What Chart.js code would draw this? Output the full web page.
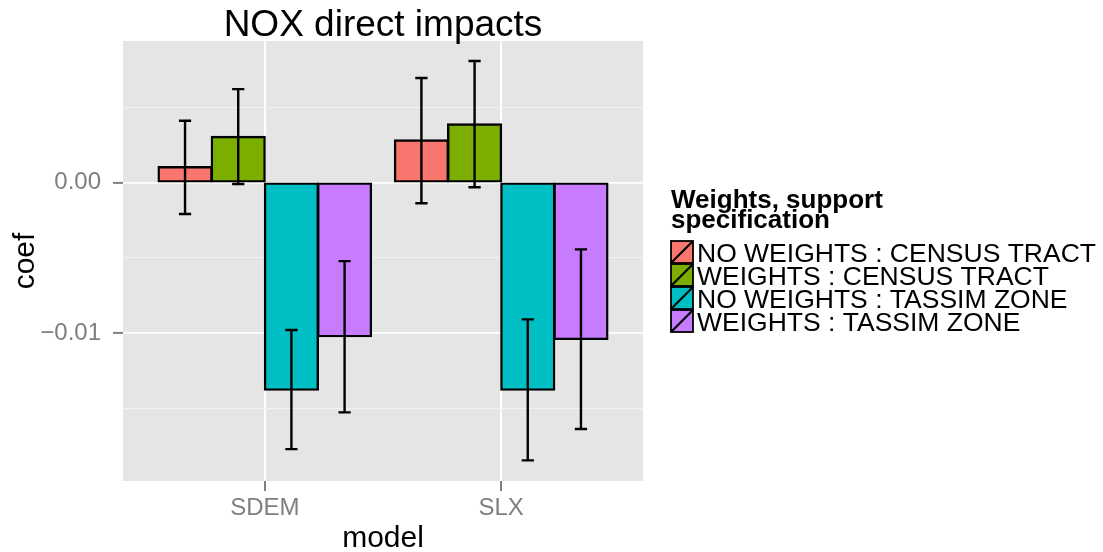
<!DOCTYPE html>
<html>
<head>
<meta charset="utf-8">
<script src="https://cdn.jsdelivr.net/npm/chart.js@4/dist/chart.umd.min.js"></script>
<style>
  html, body { margin: 0; padding: 0; background: #ffffff; }
  canvas { display: block; }
</style>
</head>
<body>
<canvas id="chart" width="1103" height="552"></canvas>
<script>
// Models on the x axis and where they sit on the numeric axis
const models = ['SDEM', 'SLX'];
const modelPositions = [1, 2];

// Series (weights / support specification)
const seriesNames = [
  'NO WEIGHTS : CENSUS TRACT',
  'WEIGHTS : CENSUS TRACT',
  'NO WEIGHTS : TASSIM ZONE',
  'WEIGHTS : TASSIM ZONE'
];
const seriesColors = ['#F8766D', '#7CAE00', '#00BFC4', '#C77CFF'];

// Coefficients per model (SDEM, SLX)
const coefNoWeightsCensus = [0.00103, 0.00280];
const coefWeightsCensus   = [0.00304, 0.00387];
const coefNoWeightsTassim = [-0.01377, -0.01377];
const coefWeightsTassim   = [-0.01022, -0.01040];

// Confidence interval bounds per model (SDEM, SLX)
const lowNoWeightsCensus  = [-0.00209, -0.00138];
const highNoWeightsCensus = [0.00410, 0.00694];
const lowWeightsCensus    = [-0.00010, -0.00032];
const highWeightsCensus   = [0.00620, 0.00807];
const lowNoWeightsTassim  = [-0.01771, -0.01846];
const highNoWeightsTassim = [-0.00980, -0.00909];
const lowWeightsTassim    = [-0.01527, -0.01638];
const highWeightsTassim   = [-0.00522, -0.00444];

// Y axis ticks
const yMajorTicks = [-0.01, 0];
const yMajorLabels = ['\u22120.01', '0.00'];
const yMinorTicks = [-0.015, -0.005, 0.005];
const yMin = -0.01983;
const yMax = 0.0094;

const titleText = 'NOX direct impacts';
const xTitleText = 'model';
const yTitleText = 'coef';
const legendTitleLines = ['Weights, support', 'specification'];

const coefSeries = [coefNoWeightsCensus, coefWeightsCensus, coefNoWeightsTassim, coefWeightsTassim];
const lowSeries  = [lowNoWeightsCensus, lowWeightsCensus, lowNoWeightsTassim, lowWeightsTassim];
const highSeries = [highNoWeightsCensus, highWeightsCensus, highNoWeightsTassim, highWeightsTassim];

const FONT = '"Liberation Sans", Arial, Helvetica, sans-serif';
const isMajor = v => yMajorTicks.some(m => Math.abs(m - v) < 1e-9);

const datasets = seriesNames.map((name, i) => ({
  label: name,
  data: modelPositions.map((x, j) => ({ x: x, y: coefSeries[i][j] })),
  errLow: lowSeries[i],
  errHigh: highSeries[i],
  backgroundColor: seriesColors[i],
  borderColor: '#000000',
  borderWidth: 2.4,
  borderSkipped: false,
  inflateAmount: 1,
  categoryPercentage: 0.9,
  barPercentage: 1.0
}));

// Grey panel behind the grid
const panelBackground = {
  id: 'panelBackground',
  beforeDraw(chart) {
    const { ctx, chartArea: a } = chart;
    ctx.save();
    ctx.fillStyle = '#E5E5E5';
    ctx.fillRect(a.left, a.top, a.right - a.left, a.bottom - a.top);
    ctx.restore();
  }
};

// Error bars with caps, centred on each bar
const errorBars = {
  id: 'errorBars',
  afterDatasetsDraw(chart) {
    const ctx = chart.ctx;
    const yScale = chart.scales.y;
    ctx.save();
    ctx.strokeStyle = '#000000';
    ctx.lineWidth = 2.4;
    ctx.lineCap = 'butt';
    chart.data.datasets.forEach((ds, i) => {
      const meta = chart.getDatasetMeta(i);
      meta.data.forEach((bar, j) => {
        const yLo = yScale.getPixelForValue(ds.errLow[j]);
        const yHi = yScale.getPixelForValue(ds.errHigh[j]);
        const half = bar.width * 0.115;
        ctx.beginPath();
        ctx.moveTo(bar.x, yLo);
        ctx.lineTo(bar.x, yHi);
        ctx.moveTo(bar.x - half, yLo);
        ctx.lineTo(bar.x + half, yLo);
        ctx.moveTo(bar.x - half, yHi);
        ctx.lineTo(bar.x + half, yHi);
        ctx.stroke();
      });
    });
    ctx.restore();
  }
};

// Title, axis titles and the fill legend
const decorations = {
  id: 'decorations',
  afterDraw(chart) {
    const { ctx, chartArea: a } = chart;
    const cx = (a.left + a.right) / 2;
    const cy = (a.top + a.bottom) / 2;
    ctx.save();
    ctx.fillStyle = '#000000';
    ctx.textBaseline = 'alphabetic';

    ctx.font = '37px ' + FONT;
    ctx.textAlign = 'center';
    ctx.fillText(titleText, cx, 36);

    ctx.font = '30px ' + FONT;
    ctx.fillText(xTitleText, cx, 547);

    ctx.save();
    ctx.translate(33.5, cy);
    ctx.rotate(-Math.PI / 2);
    ctx.fillText(yTitleText, 0, 0);
    ctx.restore();

    // legend
    const lx = 671;
    ctx.textAlign = 'left';
    ctx.font = 'bold 26px ' + FONT;
    ctx.fillText(legendTitleLines[0], lx, 208);
    ctx.fillText(legendTitleLines[1], lx, 228);

    const keySize = 22;
    const rowTop = 241;
    const rowStep = 23;
    ctx.font = '26.5px ' + FONT;
    chart.data.datasets.forEach((ds, i) => {
      const top = rowTop + i * rowStep;
      ctx.fillStyle = ds.backgroundColor;
      ctx.fillRect(lx, top, keySize, keySize);
      ctx.strokeStyle = '#000000';
      ctx.lineWidth = 1.8;
      ctx.strokeRect(lx, top, keySize, keySize);
      ctx.lineWidth = 2.2;
      ctx.beginPath();
      ctx.moveTo(lx, top + keySize);
      ctx.lineTo(lx + keySize, top);
      ctx.stroke();
      ctx.fillStyle = '#000000';
      ctx.fillText(ds.label, lx + keySize + 4, top + keySize / 2 + 9.5);
    });
    ctx.restore();
  }
};

new Chart(document.getElementById('chart'), {
  type: 'bar',
  data: { datasets: datasets },
  options: {
    responsive: false,
    animation: false,
    devicePixelRatio: 1,
    layout: { padding: { left: 0, top: 41, right: 460, bottom: 0 } },
    plugins: {
      legend: { display: false },
      title: { display: false },
      tooltip: { enabled: false }
    },
    scales: {
      x: {
        type: 'linear',
        min: 0.4,
        max: 2.6,
        offset: false,
        afterBuildTicks: s => { s.ticks = modelPositions.map(v => ({ value: v })); },
        afterFit: s => { s.height = 71; },
        border: { display: false },
        grid: {
          offset: false,
          color: '#FFFFFF',
          lineWidth: 2,
          drawTicks: true,
          tickLength: 10,
          tickColor: '#7F7F7F',
          tickWidth: 2
        },
        ticks: {
          padding: 3,
          color: '#7F7F7F',
          font: { family: FONT, size: 24 },
          maxRotation: 0,
          autoSkip: false,
          callback: v => {
            const k = modelPositions.indexOf(v);
            return k >= 0 ? models[k] : '';
          }
        }
      },
      y: {
        type: 'linear',
        min: yMin,
        max: yMax,
        afterBuildTicks: s => {
          s.ticks = yMinorTicks.concat(yMajorTicks).sort((p, q) => p - q).map(v => ({ value: v }));
        },
        afterFit: s => { s.width = 123; },
        border: { display: false },
        grid: {
          color: c => (c.tick && isMajor(c.tick.value)) ? '#FFFFFF' : '#F2F2F2',
          lineWidth: c => (c.tick && isMajor(c.tick.value)) ? 1.8 : 1,
          drawTicks: true,
          tickLength: 10,
          tickColor: c => (c.tick && isMajor(c.tick.value)) ? '#7F7F7F' : 'rgba(0,0,0,0)',
          tickWidth: 2
        },
        ticks: {
          padding: 12,
          color: '#7F7F7F',
          font: { family: FONT, size: 24 },
          autoSkip: false,
          callback: v => {
            const k = yMajorTicks.findIndex(m => Math.abs(m - v) < 1e-9);
            return k >= 0 ? yMajorLabels[k] : '';
          }
        }
      }
    }
  },
  plugins: [panelBackground, errorBars, decorations]
});
</script>
</body>
</html>
